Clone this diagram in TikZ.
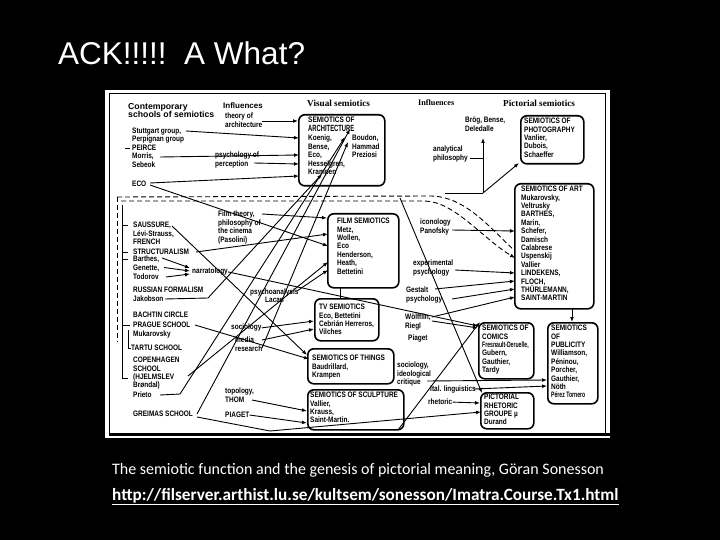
\documentclass[tikz,border=0pt]{standalone}
\usepackage{fontspec}
\setmainfont{Liberation Sans}
\newfontfamily\dgf[FakeStretch=0.82]{Liberation Sans}
\newfontfamily\dgn[FakeStretch=0.65]{Liberation Sans}
\newfontfamily\hsr{Liberation Serif}
\newfontfamily\capf{Carlito}
\usetikzlibrary{arrows.meta,calc}
\tikzset{
 t/.style={font=\dgf\bfseries\fontsize{7.9}{8.4}\selectfont, inner sep=0pt, anchor=north west, align=left, text=black},
 bx/.style={draw=black, line width=1.6pt, rounded corners=6pt, anchor=north west, inner sep=0pt},
 ar/.style={-{Latex[length=5pt,width=3.8pt]}, line width=0.9pt},
 ln/.style={line width=0.9pt},
 dl/.style={line width=0.9pt, dash pattern=on 5pt off 3pt},
 hs/.style={font=\bfseries\fontsize{8.7}{8.2}\selectfont, inner sep=0pt, anchor=north west, align=left},
 hr/.style={font=\hsr\bfseries\fontsize{9.2}{9.2}\selectfont, inner sep=0pt, anchor=north west},
 wt/.style={text=white, inner sep=0pt, anchor=base west},
}
\begin{document}
\begin{tikzpicture}[x=1pt,y=-1pt]
\useasboundingbox (0,0) rectangle (720,540);
\fill[black] (0,0) rectangle (720,540);
% slide texts
\node[wt, font=\fontsize{31.5}{36}\selectfont] (title) at (58,65) {ACK!!!!!\ \ A What?};
\node[wt, font=\capf\fontsize{16}{18}\selectfont] (cap) at (112,474) {The semiotic function and the genesis of pictorial meaning, Göran Sonesson};
\node[wt, font=\capf\bfseries\fontsize{17.2}{19}\selectfont] (url) at (112,500) {\underline{http://filserver.arthist.lu.se/kultsem/sonesson/Imatra.Course.Tx1.html}};
% scanned picture
\fill[white] (105,90) rectangle (610,438);
\draw[line width=1pt] (109,94) rectangle (605,435);
\draw[line width=2.5pt] (109,434.5) -- (610,434.5);
% headers
\node[hs] (hcont) at (128,103) {Contemporary\\schools of semiotics};
\node[hs, font=\bfseries\fontsize{8}{8}\selectfont] (hinf1) at (223,102.5) {Influences};
\node[hr] (hvis) at (307,100) {Visual semiotics};
\node[hr, font=\hsr\bfseries\fontsize{8.2}{8}\selectfont] (hinf2) at (418,100) {Influences};
\node[hr] (hpic) at (503,100) {Pictorial semiotics};
% left column
\node[t] (stutt) at (132,127.5) {Stuttgart group,\\Perpignan group};
\node[t] (peirce) at (132,145) {PEIRCE};
\node[t] (morris) at (132,153) {Morris,\\Sebeok};
\node[t] (eco) at (132,181) {ECO};
\node[t] (saus) at (133,222) {SAUSSURE,\\Lévi-Strauss,\\FRENCH};
\node[t] (struct) at (133,249) {STRUCTURALISM};
\node[t] (barthes) at (133,255.5) {Barthes,};
\node[t] (genette) at (133,264.5) {Genette,};
\node[t] (todorov) at (133,274) {Todorov};
\node[t] (russ) at (133,287) {RUSSIAN FORMALISM};
\node[t] (jak) at (133,296) {Jakobson};
\node[t] (bach) at (133,312) {BACHTIN CIRCLE};
\node[t] (prague) at (133,322) {PRAGUE SCHOOL};
\node[t] (muk) at (133,330.5) {Mukarovsky};
\node[t] (tartu) at (131,345) {TARTU SCHOOL};
\node[t] (copen) at (133,357) {COPENHAGEN\\SCHOOL\\(HJELMSLEV\\Brøndal)};
\node[t] (prieto) at (133,392) {Prieto};
\node[t] (greimas) at (133,411) {GREIMAS SCHOOL};
% influences 1
\node[t] (theory) at (225,113) {theory of\\architecture};
\node[t] (psyper) at (215,152) {psychology of\\perception};
\node[t] (filmth) at (218,211) {Film theory,\\philosophy of\\the cinema\\(Pasolini)};
\node[t] (narr) at (192,268) {narratology};
\node[t] (psa) at (250,289) {psychoanalysis};
\node[t] (lacan) at (265,297) {Lacan};
\node[t] (socio) at (231,324) {sociology};
\node[t] (media) at (235,337) {media\\research};
\node[t] (topo) at (225,388) {topology,\\THOM};
\node[t] (piaget) at (225,412) {PIAGET};
% influences 2
\node[t] (brog) at (465,117) {Brög, Bense,\\Deledalle};
\node[t] (anal) at (433,146) {analytical\\philosophy};
\node[t] (icon) at (420,219) {iconology\\Panofsky};
\node[t] (exper) at (413,260) {experimental\\psychology};
\node[t] (gest) at (406,287) {Gestalt\\psychology};
\node[t] (wolf) at (405,314) {Wölfflin,\\Riegl};
\node[t] (piag2) at (408,335) {Piaget};
\node[t] (socid) at (397,362) {sociology,\\ideological\\critique};
\node[t] (ital) at (430,386) {Ital. linguistics};
\node[t] (rhet) at (428,399) {rhetoric};
% boxes
\node[bx, minimum width=86pt, minimum height=71pt] (arch) at (298,114) {};
\node[t] (archt) at (308,117) {SEMIOTICS OF};
\node[t, font=\dgn\bfseries\fontsize{9}{9}\selectfont] (archA) at (308,125.5) {ARCHITECTURE};
\node[t] (archn) at (308,135) {Koenig,\\Bense,\\Eco,\\Hesselgren,\\Krampen};
\node[t] (archr) at (352,135) {Boudon,\\Hammad\\Preziosi};
\node[bx, minimum width=71pt, minimum height=74pt] (film) at (327,213) {};
\node[t] (filmt) at (337,218) {FILM SEMIOTICS\\Metz,\\Wollen,\\Eco\\Henderson,\\Heath,\\Bettetini};
\node[bx, minimum width=64pt, minimum height=42pt] (tv) at (314,298) {};
\node[t] (tvt) at (319,304) {TV SEMIOTICS\\Eco, Bettetini\\Cebrián Herreros,\\Vilches};
\node[bx, minimum width=86pt, minimum height=35pt] (things) at (307,348) {};
\node[t] (thingst) at (312,355) {SEMIOTICS OF THINGS\\Baudrillard,\\Krampen};
\node[bx, minimum width=96pt, minimum height=40pt] (sculpt) at (307,389) {};
\node[t] (sculptt) at (310,392) {SEMIOTICS OF SCULPTURE\\Vallier,\\Krauss,\\Saint-Martin.};
\node[bx, minimum width=63pt, minimum height=48pt] (photo) at (520,115) {};
\node[t] (photot) at (524,118) {SEMIOTICS OF\\PHOTOGRAPHY\\Vanlier,\\Dubois,\\Schaeffer};
\node[bx, minimum width=79pt, minimum height=125pt] (art) at (514,183) {};
\node[t] (artt) at (521,186) {SEMIOTICS OF ART\\Mukarovsky,\\Veltrusky\\BARTHES,\\Marin,\\Schefer,\\Damisch\\Calabrese\\Uspenskij\\Vallier\\LINDEKENS,\\FLOCH,\\THÜRLEMANN,\\SAINT-MARTIN};
\node[bx, minimum width=55pt, minimum height=56pt] (comics) at (478,322) {};
\node[t] (comicst) at (482,325) {SEMIOTICS OF\\COMICS\\{\dgn\bfseries Fresnault-Deruelle,}\\Gubern,\\Gauthier,\\Tardy};
\node[bx, minimum width=50pt, minimum height=81pt] (publ) at (547,322) {};
\node[t] (publt) at (551,325) {SEMIOTICS\\OF\\PUBLICITY\\Williamson,\\Péninou,\\Porcher,\\Gauthier,\\Nöth\\{\dgn\bfseries Pérez Tornero}};
\node[bx, minimum width=53pt, minimum height=36pt] (rhbox) at (480,392) {};
\node[t] (rhboxt) at (484,394) {PICTORIAL\\RHETORIC\\GROUPE µ\\Durand};
% brackets and dashed grouping
\draw[ln] (125,148) -- (130,148);
\draw[dl] (117,197) -- (117,342);
\draw[dl] (117,197) -- (430,196) .. controls (465,196) and (490,228) .. (514,250);
\draw[dl, -{Latex[length=5pt,width=3.8pt]}] (121,201) -- (425,201) .. controls (455,202) and (482,238) .. (515,258);
\draw[ln] (122,205) -- (122,378) -- (128,378);
\draw[ln] (122,225) -- (128,225);
\draw[ln] (122,252) -- (128,252);
\draw[ln] (122,259) -- (128,259);
\draw[ln] (122,325) -- (130,325);
\draw[ln] (128,330) -- (128,348) -- (131,348);
% connectors
\coordinate (a1) at (186,131); \coordinate (b1) at (299,138);
\draw[ar] (a1) -- (b1);
\coordinate (a2) at (262,121); \coordinate (b2) at (298,121);
\draw[ar] (a2) -- (b2);
\coordinate (a3) at (160,157); \coordinate (b3) at (299,155);
\draw[ar] (a3) -- (b3);
\coordinate (a4) at (254,163); \coordinate (b4) at (299,164);
\draw[ar] (a4) -- (b4);
\coordinate (a5) at (150,183); \coordinate (b5) at (299,176);
\draw[ar] (a5) -- (b5);
\coordinate (a6) at (150,185); \coordinate (b6) at (328,246);
\draw[ar] (a6) -- (b6);
\coordinate (a7) at (262,214); \coordinate (b7) at (327,218);
\draw[ar] (a7) -- (b7);
\coordinate (a8) at (196,252); \coordinate (b8) at (328,234);
\draw[ar] (a8) -- (b8);
\coordinate (a9) at (172,226); \coordinate (b9) at (307,355);
\draw[ar] (a9) -- (b9);
\coordinate (nr1) at (190,268); \coordinate (nr2) at (190,271); \coordinate (nr3) at (190,274);
\coordinate (a10) at (162,258); \coordinate (a11) at (164,267.5); \coordinate (a12) at (166,277);
\draw[ar] (a10) -- (nr1);
\draw[ar] (a11) -- (nr2);
\draw[ar] (a12) -- (nr3);
\coordinate (b13) at (478,326);
\draw[ar] (narr.east) -- (b13);
\coordinate (a14) at (165,299); \coordinate (m14) at (208,298); \coordinate (b14) at (322,174);
\draw[ar] (a14) -- (m14) -- (b14);
\coordinate (a15) at (160,395); \coordinate (m15) at (180,394); \coordinate (b15) at (345,137);
\draw[ar] (a15) -- (m15) -- (b15);
\coordinate (a16) at (197,414); \coordinate (b16) at (350,129);
\draw[ar] (a16) -- (b16);
\coordinate (a17) at (262,348); \coordinate (b17) at (348,142);
\draw[ar] (a17) -- (b17);
\coordinate (b18) at (314,321);
\draw[ar] (socio.east) -- (b18);
\coordinate (a19) at (262,340); \coordinate (b19) at (314,329);
\draw[ar] (a19) -- (b19);
\coordinate (a20) at (195,325); \coordinate (b20) at (309,359);
\draw[ar] (a20) -- (b20);
\coordinate (a21) at (252,400); \coordinate (b21) at (307,411);
\draw[ar] (a21) -- (b21);
\coordinate (b22) at (307,423);
\draw[ar] (piaget.east) -- (b22);
\coordinate (a23) at (297,291); \coordinate (b23) at (328,270);
\draw[ar] (a23) -- (b23);
\coordinate (a24) at (197,417); \coordinate (m24) at (270,431); \coordinate (b24) at (481,412);
\draw[ar] (a24) -- (m24) -- (b24);
\coordinate (a25) at (188,376); \coordinate (b25) at (328,262);
\draw[ar] (a25) -- (b25);
\coordinate (a26) at (452,230); \coordinate (b26) at (515,231);
\draw[ar] (a26) -- (b26);
\coordinate (a27) at (455,270); \coordinate (b27) at (515,273);
\draw[ar] (a27) -- (b27);
\coordinate (a28) at (435,289); \coordinate (b28) at (515,281);
\draw[ar] (a28) -- (b28);
\coordinate (a29) at (452,299); \coordinate (b29) at (515,289);
\draw[ar] (a29) -- (b29);
\coordinate (a30) at (432,317); \coordinate (b30) at (515,297);
\draw[ar] (a30) -- (b30);
\coordinate (a31) at (432,321); \coordinate (b31) at (478,328);
\draw[ar] (a31) -- (b31);
\coordinate (a32) at (427,381); \coordinate (b32) at (547,380);
\draw[ar] (a32) -- (b32);
\coordinate (a33) at (474,389); \coordinate (b33) at (547,386);
\draw[ar] (a33) -- (b33);
\coordinate (b34) at (480,403);
\draw[ar] (rhet.east) -- (b34);
\coordinate (a35) at (400,198); \coordinate (b35) at (482,393);
\draw[ar] (a35) -- (b35);
\coordinate (a36) at (572,308); \coordinate (b36) at (572,322);
\draw[ar] (a36) -- (b36);
\coordinate (a37) at (340,287); \coordinate (b37) at (340,298);
\draw[ln] (a37) -- (b37);
\coordinate (junc) at (483,193);
\coordinate (a38) at (470,158); \coordinate (b38) at (483,158);
\draw[ln] (a38) -- (b38);
\coordinate (a41) at (445,193);
\draw[ln] (a41) -- (junc);
\coordinate (b39) at (483,138); \coordinate (b40) at (519,163);
\draw[ar] (junc) -- (b39);
\draw[ar] (junc) -- (b40);
\coordinate (a42) at (398,430); \coordinate (b42) at (480,322);
\draw[ar] (a42) -- (b42);
\end{tikzpicture}
\end{document}
